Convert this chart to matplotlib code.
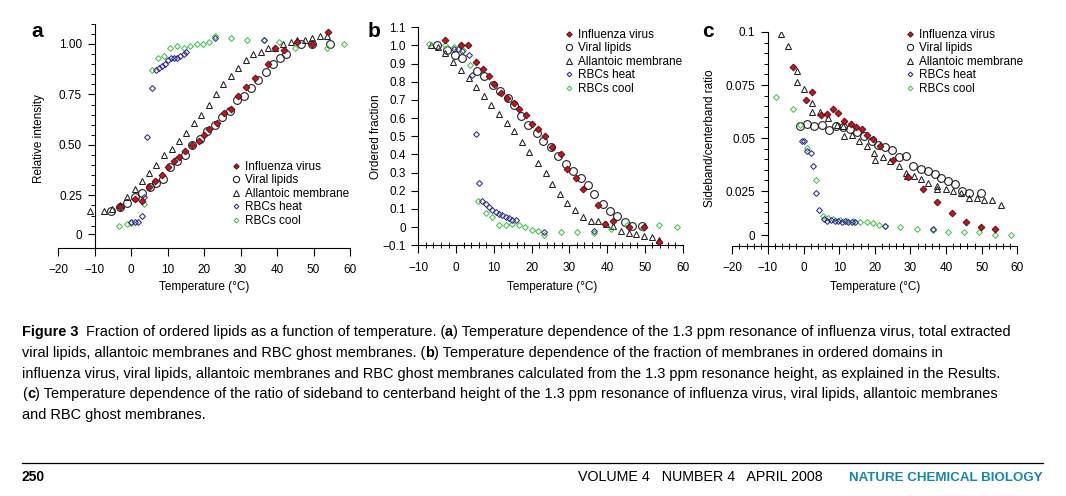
import matplotlib
matplotlib.use("Agg")
import matplotlib.pyplot as plt
import numpy as np

plt.rcParams['font.family'] = ['Liberation Sans', 'DejaVu Sans']

# ---------------- panel a: relative intensity ----------------
a_flu_t = [-3.1, 1.0, 2.9, 5.0, 6.7, 8.6, 10.0, 11.7, 13.1, 14.7, 16.6, 18.6, 19.9, 21.3, 23.5,
           25.4, 27.3, 29.4, 31.6, 33.9, 37.6, 39.4, 41.8, 45.6, 49.5, 53.9]
a_flu_v = [0.19, 0.23, 0.22, 0.29, 0.32, 0.35, 0.39, 0.42, 0.44, 0.47, 0.50, 0.52, 0.55, 0.58, 0.61,
           0.66, 0.68, 0.74, 0.785, 0.83, 0.90, 0.98, 0.97, 1.01, 1.00, 1.06]
a_lip_t = [-5.6, -3.1, -1.0, 1.0, 2.9, 5.1, 6.9, 8.8, 10.8, 12.7, 14.9, 16.8, 18.8, 20.9, 22.9,
           24.8, 27.1, 29.1, 31.0, 33.0, 34.8, 36.9, 39.0, 40.8, 42.6, 46.7, 49.5, 54.5]
a_lip_v = [0.17, 0.19, 0.21, 0.24, 0.26, 0.29, 0.31, 0.33, 0.39, 0.42, 0.45, 0.50, 0.53, 0.57, 0.60,
           0.64, 0.67, 0.72, 0.74, 0.78, 0.82, 0.86, 0.90, 0.93, 0.95, 1.00, 1.00, 1.00]
a_all_t = [-11.3, -7.4, -5.2, -3.1, -1.0, 1.0, 3.0, 5.0, 6.9, 9.0, 11.1, 13.1, 15.2, 17.2, 19.1, 21.3,
           23.4, 25.2, 27.3, 29.4, 31.5, 33.5, 35.5, 37.4, 39.4, 41.7, 43.7, 45.6, 47.6, 49.7, 51.8, 53.8]
a_all_v = [0.17, 0.17, 0.18, 0.20, 0.24, 0.28, 0.32, 0.36, 0.40, 0.45, 0.48, 0.52, 0.56, 0.61, 0.65, 0.70,
           0.75, 0.80, 0.84, 0.88, 0.92, 0.95, 0.96, 0.98, 0.98, 1.00, 1.01, 1.02, 1.02, 1.03, 1.04, 1.04]
a_heat_t = [0.1, 1.0, 1.9, 2.9, 3.6, 4.4, 5.8, 6.8, 7.6, 8.4, 9.3, 10.2, 11.0, 11.8, 12.6, 13.5, 14.4,
            15.2, 23.1, 36.5]
a_heat_v = [0.12, 0.12, 0.12, 0.15, 0.24, 0.54, 0.78, 0.87, 0.88, 0.89, 0.90, 0.92, 0.93, 0.93, 0.93,
            0.94, 0.95, 0.96, 1.03, 1.02]
a_cool_t = [-3.4, -1.1, -0.1, 3.5, 5.8, 7.4, 9.0, 10.8, 12.6, 14.5, 16.1, 18.0, 19.7, 21.3, 23.1,
            27.5, 31.8, 36.4, 40.6, 44.9, 49.5, 53.8, 58.4]
a_cool_v = [0.10, 0.11, 0.115, 0.205, 0.87, 0.93, 0.94, 0.98, 0.99, 0.98, 0.99, 1.00, 1.00, 1.01, 1.04,
            1.03, 1.02, 1.02, 1.01, 0.98, 1.00, 0.98, 1.00]

# ---------------- panel b: ordered fraction ----------------
b_flu_t = [-2.9, 1.3, 3.1, 5.4, 7.0, 8.8, 10.1, 11.8, 13.6, 15.3, 16.7, 18.4, 20.0, 21.6, 23.5,
           25.3, 27.7, 29.5, 31.7, 33.5, 37.7, 39.4, 41.6, 45.8, 49.8, 53.7]
b_flu_v = [1.03, 1.00, 1.00, 0.91, 0.87, 0.83, 0.79, 0.74, 0.71, 0.685, 0.65, 0.62, 0.57, 0.54, 0.50,
           0.44, 0.405, 0.32, 0.27, 0.21, 0.12, 0.02, 0.035, 0.0, 0.0, -0.08]
b_lip_t = [-5.1, -2.5, -0.3, 1.7, 5.6, 7.5, 9.7, 11.6, 13.7, 15.4, 17.2, 19.1, 21.3, 23.1, 25.1,
           26.9, 29.0, 31.0, 33.0, 35.0, 36.6, 39.0, 40.7, 42.7, 44.7, 46.7, 49.1]
b_lip_v = [1.00, 0.975, 0.95, 0.93, 0.86, 0.83, 0.78, 0.75, 0.71, 0.67, 0.61, 0.56, 0.52, 0.475, 0.44,
           0.39, 0.35, 0.31, 0.27, 0.23, 0.18, 0.13, 0.09, 0.06, 0.026, 0.005, 0.005]
b_all_t = [-6.6, -4.7, -2.8, -0.7, 1.3, 3.4, 5.2, 7.5, 9.2, 11.4, 13.4, 15.4, 17.5, 19.4, 21.6, 23.7,
           25.5, 27.5, 29.5, 31.5, 33.7, 35.6, 37.7, 39.6, 41.6, 43.6, 45.8, 47.6, 49.8, 51.8, 53.7]
b_all_v = [1.005, 0.99, 0.96, 0.91, 0.865, 0.82, 0.77, 0.72, 0.67, 0.625, 0.575, 0.53, 0.47, 0.415,
           0.355, 0.30, 0.235, 0.185, 0.135, 0.095, 0.055, 0.035, 0.035, 0.015, 0.005, -0.02, -0.035,
           -0.04, -0.05, -0.055, -0.07]
b_heat_t = [-0.5, 0.6, 1.5, 3.5, 4.3, 5.2, 6.1, 6.8, 7.8, 8.7, 9.6, 10.5, 11.4, 12.2, 13.1, 14.0,
            14.9, 15.9, 23.3, 36.5]
b_heat_v = [0.98, 0.98, 0.97, 0.95, 0.84, 0.515, 0.245, 0.145, 0.125, 0.11, 0.095, 0.085, 0.075,
            0.065, 0.055, 0.05, 0.04, 0.04, -0.025, -0.02]
b_cool_t = [-7.2, -2.8, -0.5, 1.9, 3.7, 5.7, 7.9, 9.4, 11.4, 13.2, 14.9, 16.7, 18.2, 20.2, 21.8,
            23.4, 27.7, 31.9, 36.5, 40.9, 45.3, 49.4, 53.8, 58.4]
b_cool_v = [1.01, 1.00, 0.99, 0.975, 0.89, 0.145, 0.08, 0.057, 0.011, 0.011, 0.015, 0.011, 0.002,
            -0.017, -0.02, -0.044, -0.026, -0.026, -0.03, -0.011, 0.011, -0.007, 0.011, -0.002]

# ---------------- panel c: sideband/centerband ratio ----------------
c_flu_t = [-3.1, 0.7, 2.5, 4.8, 6.7, 8.3, 9.7, 11.4, 13.2, 14.7, 16.5, 17.7, 19.6, 21.4, 25.2,
           29.4, 33.4, 37.5, 41.6, 45.5, 49.8, 53.8]
c_flu_v = [0.0836, 0.0677, 0.0719, 0.0610, 0.0614, 0.0636, 0.0620, 0.0578, 0.0567, 0.0552, 0.0542,
           0.0516, 0.0495, 0.0464, 0.0398, 0.0316, 0.0258, 0.0198, 0.0145, 0.0105, 0.0081, 0.0070]
c_lip_t = [-1.0, 1.0, 3.0, 5.1, 7.1, 9.0, 11.2, 13.0, 15.1, 17.0, 19.1, 21.0, 22.8, 24.9, 26.9,
           28.7, 30.8, 32.9, 34.8, 36.9, 38.7, 40.6, 42.5, 44.5, 46.5, 49.7]
c_lip_v = [0.0558, 0.0567, 0.0555, 0.0562, 0.0539, 0.0555, 0.0552, 0.0542, 0.0527, 0.0511, 0.0484,
           0.0469, 0.0458, 0.0442, 0.0411, 0.0417, 0.0370, 0.0355, 0.0344, 0.0328, 0.0312, 0.0297,
           0.0284, 0.0250, 0.0242, 0.0242]
c_all_t = [-6.4, -4.3, -1.9, -1.8, 0.1, 2.5, 2.5, 4.6, 6.9, 9.3, 11.0, 11.4, 13.5, 15.6, 17.7, 19.8,
           20.0, 22.2, 24.4, 26.8, 28.7, 28.9, 31.1, 33.1, 35.0, 37.5, 37.5, 39.9, 42.0, 44.2, 46.5,
           48.6, 50.7, 53.0, 55.3]
c_all_v = [0.0989, 0.0933, 0.0817, 0.0766, 0.0730, 0.0667, 0.0625, 0.0622, 0.0594, 0.0563, 0.0555,
           0.0508, 0.0516, 0.0488, 0.0461, 0.0430, 0.0398, 0.0409, 0.0391, 0.0367, 0.0336, 0.0323,
           0.0320, 0.0308, 0.0289, 0.0273, 0.0258, 0.0258, 0.0250, 0.0242, 0.0219, 0.0219, 0.0208,
           0.0206, 0.0183]
c_heat_t = [-0.5, 0.2, 1.0, 2.0, 2.7, 3.5, 4.4, 5.7, 6.7, 7.7, 8.8, 9.7, 10.7, 11.6, 12.6, 13.5,
            14.4, 23.0, 36.4]
c_heat_v = [0.0484, 0.0484, 0.0438, 0.0427, 0.0370, 0.0239, 0.0161, 0.0117, 0.0109, 0.0112, 0.0109,
            0.0109, 0.0106, 0.0109, 0.0106, 0.0106, 0.0105, 0.0086, 0.0070]
c_cool_t = [-7.6, -3.1, -1.0, 1.0, 3.5, 5.4, 6.8, 8.3, 10.2, 12.1, 14.0, 15.8, 17.7, 19.4, 21.3,
            23.0, 27.2, 31.9, 36.4, 40.6, 45.0, 49.3, 53.7, 58.1]
c_cool_v = [0.0692, 0.0638, 0.0563, 0.0453, 0.0302, 0.0133, 0.0125, 0.0120, 0.0114, 0.0109, 0.0109,
            0.0102, 0.0102, 0.0097, 0.0089, 0.0086, 0.0078, 0.0073, 0.0067, 0.0058, 0.0058, 0.0058,
            0.0044, 0.0044]

labels = ['Influenza virus', 'Viral lipids', 'Allantoic membrane', 'RBCs heat', 'RBCs cool']

# the "0" tick of panels a and c sits higher than the linear spacing of the others
a_yticks = [0.056, 0.25, 0.5, 0.75, 1.0]
a_yticklabels = ['0', '0.25', '0.50', '0.75', '1.00']
b_yticks = [-0.1, 0, 0.1, 0.2, 0.3, 0.4, 0.5, 0.6, 0.7, 0.8, 0.9, 1.0, 1.1]
b_yticklabels = ['\u22120.1', '0', '0.1', '0.2', '0.3', '0.4', '0.5', '0.6', '0.7', '0.8', '0.9', '1.0', '1.1']
c_yticks = [0.0042, 0.025, 0.05, 0.075, 0.1]
c_yticklabels = ['0', '0.025', '0.05', '0.075', '0.1']

RED, REDE = '#c4141d', '#4a0b0b'
BLUE = '#2e2b8e'
GREEN = '#45c24b'
DARK = '#222222'

W, H = 1066, 496
fig = plt.figure(figsize=(W / 100, H / 100), dpi=100)


def draw(ax, flu, lip, allan, heat, cool):
    ax.plot(*lip, 'o', ms=5.6, mfc='none', mec=DARK, mew=0.8, label=labels[1])
    ax.plot(*allan, '^', ms=4.6, mfc='none', mec=DARK, mew=0.75, label=labels[2])
    ax.plot(*cool, 'D', ms=3.0, mfc='none', mec=GREEN, mew=0.75, label=labels[4])
    ax.plot(*heat, 'D', ms=3.0, mfc='none', mec=BLUE, mew=0.75, label=labels[3])
    ax.plot(*flu, 'D', ms=3.5, mfc=RED, mec=REDE, mew=0.6, label=labels[0])
    for s in ['top', 'right']:
        ax.spines[s].set_visible(False)
    for s in ['left', 'bottom']:
        ax.spines[s].set_linewidth(0.8)
    ax.tick_params(which='major', direction='out', length=5, width=0.8, labelsize=8.5, pad=4)
    ax.tick_params(axis='x', which='major', length=6, pad=6)
    ax.tick_params(which='minor', length=3, width=0.7)
    ax.tick_params(axis='x', which='minor', direction='inout', length=4)
    h, l = ax.get_legend_handles_labels()
    order = [l.index(x) for x in labels]
    return [h[i] for i in order]


def place_legend(ax, handles, x, y):
    ax.legend(handles, labels, loc='upper left', bbox_to_anchor=(x / W, 1 - y / H),
              bbox_transform=fig.transFigure, frameon=False, fontsize=8.5, markerscale=0.8,
              handlelength=0.8, handletextpad=0.35, labelspacing=0.12, borderpad=0, borderaxespad=0)


def px_axes(x0, x1, y0, y1):
    return fig.add_axes([x0 / W, 1 - y1 / H, (x1 - x0) / W, (y1 - y0) / H])


# panel a
ax = px_axes(58, 350, 23.8, 247.8)
hd = draw(ax, (a_flu_t, a_flu_v), (a_lip_t, a_lip_v), (a_all_t, a_all_v),
          (a_heat_t, a_heat_v), (a_cool_t, a_cool_v))
ax.set_xlim(-20, 60)
ax.set_ylim(-0.01, 1.1)
ax.spines['left'].set_position(('data', -10))
ax.set_xticks(np.arange(-20, 61, 10))
ax.set_xticklabels(['\u221220', '\u221210', '0', '10', '20', '30', '40', '50', '60'])
ax.set_yticks(a_yticks)
ax.set_yticklabels(a_yticklabels)
ax.set_yticks([v for v in np.arange(0.1, 1.11, 0.05) if abs(v / 0.25 - round(v / 0.25)) > 1e-6], minor=True)
ax.set_xlabel('Temperature (\u00b0C)', fontsize=8.5, va='center')
ax.xaxis.set_label_coords(204 / W, 1 - 287 / H, transform=fig.transFigure)
ax.set_ylabel('Relative intensity', fontsize=8.5, va='center')
ax.yaxis.set_label_coords(39 / W, 1 - 139 / H, transform=fig.transFigure)
place_legend(ax, hd, 231, 161)

# panel b
ax = px_axes(418.3, 682.7, 27.3, 245.3)
hd = draw(ax, (b_flu_t, b_flu_v), (b_lip_t, b_lip_v), (b_all_t, b_all_v),
          (b_heat_t, b_heat_v), (b_cool_t, b_cool_v))
ax.set_xlim(-10, 60)
ax.set_ylim(-0.1, 1.1)
ax.set_xticks(np.arange(-10, 61, 10))
ax.set_xticklabels(['\u221210', '0', '10', '20', '30', '40', '50', '60'])
ax.set_xticks(np.arange(-10, 61, 2), minor=True)
ax.set_yticks(b_yticks)
ax.set_yticklabels(b_yticklabels)
ax.set_xlabel('Temperature (\u00b0C)', fontsize=8.5, va='center')
ax.xaxis.set_label_coords(552 / W, 1 - 287 / H, transform=fig.transFigure)
ax.set_ylabel('Ordered fraction', fontsize=8.5, va='center')
ax.yaxis.set_label_coords(376 / W, 1 - 137 / H, transform=fig.transFigure)
place_legend(ax, hd, 564, 29)

# panel c
ax = px_axes(732.3, 1017.3, 32.0, 245.7)
hd = draw(ax, (c_flu_t, c_flu_v), (c_lip_t, c_lip_v), (c_all_t, c_all_v),
          (c_heat_t, c_heat_v), (c_cool_t, c_cool_v))
ax.set_xlim(-20, 60)
ax.set_ylim(-0.0008, 0.1)
ax.spines['left'].set_position(('data', -10))
ax.set_xticks(np.arange(-20, 61, 10))
ax.set_xticklabels(['\u221220', '\u221210', '0', '10', '20', '30', '40', '50', '60'])
ax.set_xticks(np.arange(-20, 61, 2), minor=True)
ax.set_yticks(c_yticks)
ax.set_yticklabels(c_yticklabels)
ax.set_yticks([v for v in np.arange(0.01, 0.1, 0.005) if abs(v / 0.025 - round(v / 0.025)) > 1e-6], minor=True)
ax.set_xlabel('Temperature (\u00b0C)', fontsize=8.5, va='center')
ax.xaxis.set_label_coords(875 / W, 1 - 287 / H, transform=fig.transFigure)
ax.set_ylabel('Sideband/centerband ratio', fontsize=8.5, va='center')
ax.yaxis.set_label_coords(710 / W, 1 - 138 / H, transform=fig.transFigure)
place_legend(ax, hd, 905, 29)

# panel letters
for letter, x in [('a', 31), ('b', 368), ('c', 702)]:
    fig.text(x / W, 1 - 37 / H, letter, fontsize=15, fontweight='bold', va='baseline')

# caption
cap_lines = [
    [("Figure 3", True), ("Fraction of ordered lipids as a function of temperature. (", False), ("a", True),
     (") Temperature dependence of the 1.3 ppm resonance of influenza virus, total extracted", False)],
    [("viral lipids, allantoic membranes and RBC ghost membranes. (", False), ("b", True),
     (") Temperature dependence of the fraction of membranes in ordered domains in", False)],
    [("influenza virus, viral lipids, allantoic membranes and RBC ghost membranes calculated from the "
      "1.3 ppm resonance height, as explained in the Results.", False)],
    [("(", False), ("c", True),
     (") Temperature dependence of the ratio of sideband to centerband height of the 1.3 ppm resonance "
      "of influenza virus, viral lipids, allantoic membranes", False)],
    [("and RBC ghost membranes.", False)],
]
renderer = fig.canvas.get_renderer()
GAP = 7


def write_line(line, y, size, keep=True):
    x = 22
    arts = []
    for j, (txt, bold) in enumerate(line):
        if j > 0 and line[j - 1][0] == "Figure 3":
            x += GAP
        t = fig.text(x / W, y, txt, fontsize=size, fontweight='bold' if bold else 'normal', va='baseline')
        x += t.get_window_extent(renderer).width
        arts.append(t)
    if not keep:
        for t in arts:
            t.remove()
    return x


# no condensed face is installed, so the caption size is fitted to the line width of the page
x_end = write_line(cap_lines[0], 0.5, 10, keep=False)
cap_size = 10 * (1013 - 22) / (x_end - 22)
for i, line in enumerate(cap_lines):
    write_line(line, 1 - (336 + i * 20.8) / H, cap_size)

# footer
fig.add_artist(plt.Line2D([22 / W, 1043 / W], [1 - 463 / H, 1 - 463 / H], color='black', lw=0.9))
fig.text(22 / W, 1 - 481 / H, '250', fontsize=10, fontweight='bold', va='baseline')
fig.text(1043 / W, 1 - 481 / H, 'NATURE CHEMICAL BIOLOGY', fontsize=9.6, fontweight='bold',
         color='#1787ad', va='baseline', ha='right')
fig.text(823 / W, 1 - 481 / H, 'VOLUME 4   NUMBER 4   APRIL 2008', fontsize=10.3,
         va='baseline', ha='right')

fig.savefig('out.png', dpi=100)
